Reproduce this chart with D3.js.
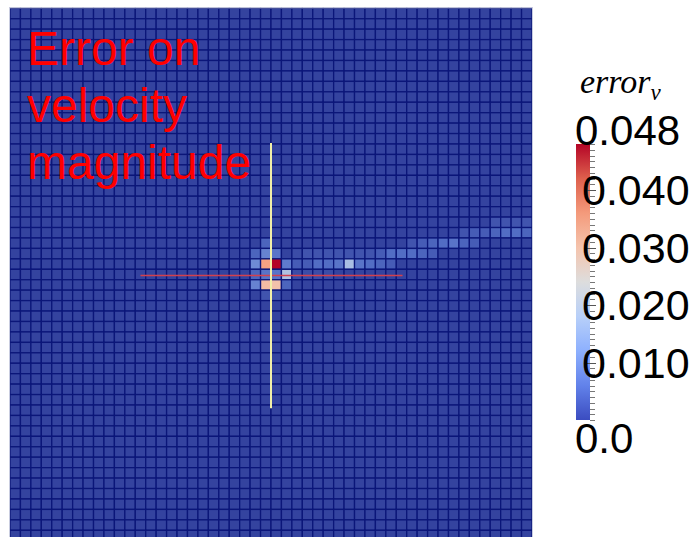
<!DOCTYPE html>
<html>
<head>
<meta charset="utf-8">
<script src="https://cdn.jsdelivr.net/npm/d3@7"></script>
<style>
  body { margin: 0; background: #fff; }
  svg { display: block; }
</style>
</head>
<body>
<svg id="chart" width="698" height="537"></svg>
<script>
// error on velocity magnitude, mesh cells 50 x 51 (bottom rows cut off)

var width = 698;
var height = 537;
var nCols = 50;
var nRows = 51;

// most cells sit close to zero
var baseValue = 0.0008;

// non-zero cells: [row, col, error]
var hotCells = [
  [22, 24, 0.005],
  [23, 23, 0.005], [23, 24, 0.009], [23, 25, 0.007],
  [24, 23, 0.010], [24, 24, 0.035], [24, 25, 0.048], [24, 26, 0.008],
  [25, 23, 0.005], [25, 24, 0.007], [25, 25, 0.007], [25, 26, 0.019],
  [26, 23, 0.009], [26, 24, 0.031], [26, 25, 0.030], [26, 26, 0.005],
  [27, 24, 0.003], [27, 25, 0.003],
  // wake to the right
  [24, 27, 0.004], [24, 28, 0.004], [24, 29, 0.006], [24, 30, 0.006],
  [24, 31, 0.007], [24, 32, 0.018], [24, 33, 0.007], [24, 34, 0.006],
  [24, 35, 0.005], [24, 36, 0.004],
  [23, 27, 0.002], [23, 28, 0.003], [23, 29, 0.003], [23, 30, 0.003],
  [23, 31, 0.003], [23, 32, 0.003], [23, 33, 0.003], [23, 34, 0.003],
  [23, 35, 0.004], [23, 36, 0.006], [23, 37, 0.006], [23, 38, 0.006],
  [23, 39, 0.005], [23, 40, 0.004],
  [22, 38, 0.003], [22, 39, 0.004], [22, 40, 0.005], [22, 41, 0.006],
  [22, 42, 0.007], [22, 43, 0.005], [22, 44, 0.004],
  [21, 43, 0.003], [21, 44, 0.004], [21, 45, 0.004], [21, 46, 0.005],
  [21, 47, 0.006], [21, 48, 0.006], [21, 49, 0.005],
  [20, 46, 0.003], [20, 47, 0.003], [20, 48, 0.003], [20, 49, 0.003],
  [25, 27, 0.002], [25, 28, 0.002], [25, 29, 0.002], [25, 30, 0.002]
];

// probe lines, in cell units
var probeV = { col: 25, from: 12.9, to: 38.3 };
var probeH = { row: 25.6, from: 12.5, to: 37.6 };

var titleLines = ["Error on", "velocity", "magnitude"];
var legendMax = 0.048;
var legendTicks = [0.010, 0.020, 0.030, 0.040];

// cool to warm colour map
var cmapStops = [
  [0.0, "rgb(59,76,192)"],
  [0.125, "rgb(98,130,234)"],
  [0.25, "rgb(141,176,254)"],
  [0.375, "rgb(184,208,249)"],
  [0.5, "rgb(221,221,221)"],
  [0.625, "rgb(245,196,173)"],
  [0.75, "rgb(244,154,123)"],
  [0.875, "rgb(222,96,77)"],
  [1.0, "rgb(180,4,38)"]
];

var color = d3.scaleLinear()
  .domain(cmapStops.map(function(s){ return s[0] * legendMax; }))
  .range(cmapStops.map(function(s){ return s[1]; }))
  .clamp(true);

var svg = d3.select("#chart");

var x = d3.scaleLinear().domain([0, nCols]).range([10, 532]);
var y = d3.scaleLinear().domain([0, nCols]).range([8.3, 530.3]);

// build the full cell list
var lookup = {};
hotCells.forEach(function(d){ lookup[d[0] + "_" + d[1]] = d[2]; });
var cells = [];
for (var r = 0; r < nRows; r++) {
  for (var c = 0; c < nCols; c++) {
    var v = lookup[r + "_" + c];
    cells.push({ r: r, c: c, v: v === undefined ? baseValue : v });
  }
}

var grid = svg.append("g");

grid.selectAll("rect.cell")
  .data(cells)
  .enter().append("rect")
  .attr("class", "cell")
  .attr("x", function(d){ return x(d.c); })
  .attr("y", function(d){ return y(d.r); })
  .attr("width", x(1) - x(0))
  .attr("height", y(1) - y(0))
  .style("fill", function(d){
    // the mesh is lit a little darker than the bar
    var k = 0.8 + 0.2 * Math.min(1, d.v / legendMax * 1.5);
    var col = d3.rgb(color(d.v));
    return d3.rgb(col.r * k, col.g * k, col.b * k);
  })
  .style("stroke", "#0b1679")
  .style("stroke-width", 1.3);

grid.append("rect")
  .attr("x", x(0) - 0.5)
  .attr("y", y(0) - 0.5)
  .attr("width", x(nCols) - x(0) + 1)
  .attr("height", height)
  .style("fill", "none")
  .style("stroke", "#c9cde0")
  .style("stroke-width", 1);

// probe lines
svg.append("line")
  .attr("x1", x(probeH.from)).attr("x2", x(probeH.to))
  .attr("y1", y(probeH.row)).attr("y2", y(probeH.row))
  .style("stroke", "#d2404e")
  .style("stroke-width", 1.6);

svg.append("line")
  .attr("x1", x(probeV.col)).attr("x2", x(probeV.col))
  .attr("y1", y(probeV.from)).attr("y2", y(probeV.to))
  .style("stroke", "#f2f0a8")
  .style("stroke-width", 2);

// red caption
svg.append("g").selectAll("text")
  .data(titleLines)
  .enter().append("text")
  .attr("x", 27)
  .attr("y", function(d, i){ return 65 + i * 57; })
  .style("font-family", "'Liberation Sans', Arial, sans-serif")
  .style("font-size", "48px")
  .style("fill", "#ff0000")
  .text(function(d){ return d; });

// colour bar
var barY = d3.scaleLinear().domain([0, legendMax]).range([420, 144]);
var barX = 576, barW = 14;

var grad = svg.append("defs").append("linearGradient")
  .attr("id", "cbar")
  .attr("x1", 0).attr("y1", 1).attr("x2", 0).attr("y2", 0);
grad.selectAll("stop")
  .data(cmapStops)
  .enter().append("stop")
  .attr("offset", function(d){ return d[0]; })
  .attr("stop-color", function(d){ return d[1]; });

svg.append("rect")
  .attr("x", barX)
  .attr("y", barY(legendMax))
  .attr("width", barW)
  .attr("height", barY(0) - barY(legendMax))
  .style("fill", "url(#cbar)");

var minor = d3.range(0, 49).map(function(i){ return i / 1000; });
svg.append("g").selectAll("line")
  .data(minor)
  .enter().append("line")
  .attr("x1", barX + barW)
  .attr("x2", barX + barW + 5)
  .attr("y1", function(d){ return Math.round(barY(d)) + 0.5; })
  .attr("y2", function(d){ return Math.round(barY(d)) + 0.5; })
  .style("stroke", "#777")
  .style("stroke-width", 1);

svg.append("g").selectAll("line")
  .data(legendTicks)
  .enter().append("line")
  .attr("x1", barX + barW - 4)
  .attr("x2", barX + barW + 6)
  .attr("y1", function(d){ return Math.round(barY(d)) + 0.5; })
  .attr("y2", function(d){ return Math.round(barY(d)) + 0.5; })
  .style("stroke", "#555")
  .style("stroke-width", 1);

var labelFont = "'Liberation Sans', Arial, sans-serif";

svg.append("g").selectAll("text")
  .data(legendTicks)
  .enter().append("text")
  .attr("x", 582)
  .attr("y", function(d){ return barY(d) + 15; })
  .style("font-family", labelFont)
  .style("font-size", "43px")
  .style("fill", "#000")
  .text(function(d){ return d3.format(".3f")(d); });

svg.append("text")
  .attr("x", 575)
  .attr("y", 145)
  .style("font-family", labelFont)
  .style("font-size", "42px")
  .text(d3.format(".3f")(legendMax));

svg.append("text")
  .attr("x", 575)
  .attr("y", 453)
  .style("font-family", labelFont)
  .style("font-size", "42px")
  .text("0.0");

// legend title
var title = svg.append("text")
  .attr("x", 580)
  .attr("y", 93)
  .style("font-family", "'Liberation Serif', 'Times New Roman', serif")
  .style("font-style", "italic")
  .style("font-size", "34px");
title.append("tspan").text("error");
title.append("tspan").attr("dy", 7).style("font-size", "23px").text("v");
</script>
</body>
</html>
